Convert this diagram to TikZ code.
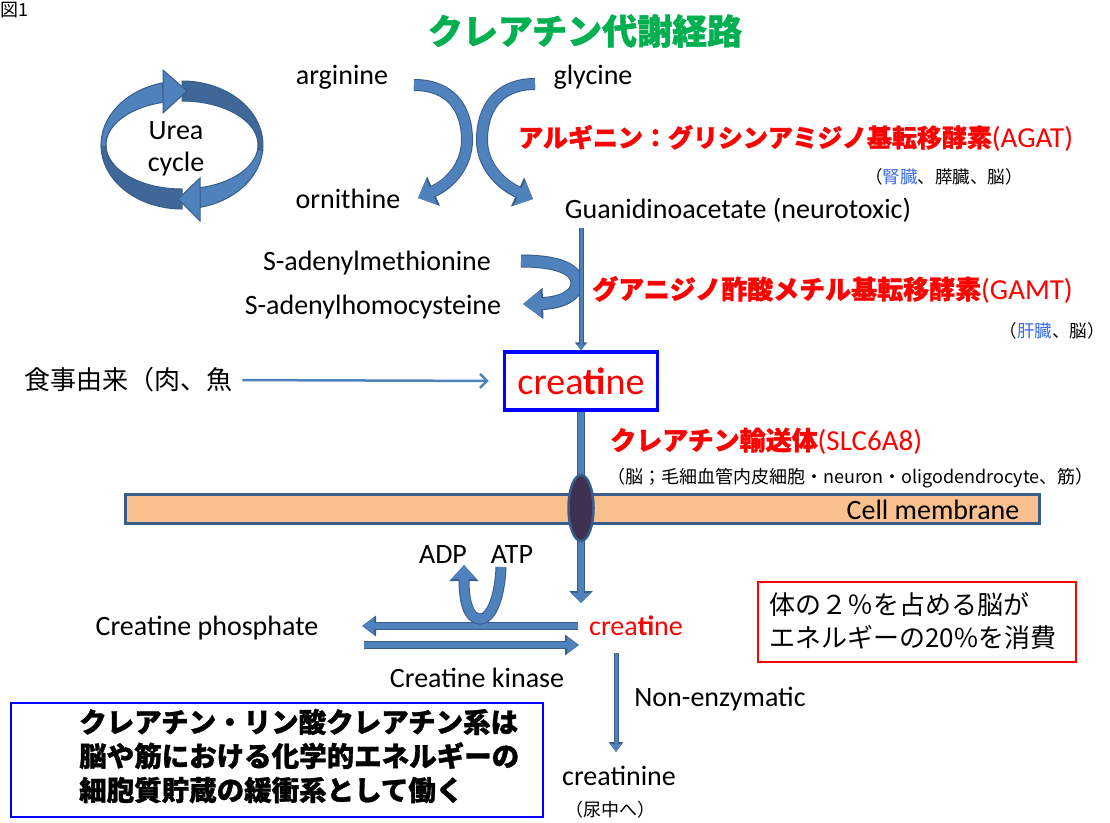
\documentclass[tikz,border=0pt]{standalone}
\usepackage{fontspec}
\setmainfont{Carlito}
\newfontfamily\jp{Noto Sans CJK JP}
\newfontfamily\jph{Noto Sans CJK JP}[BoldFeatures={FakeBold=1.2}]
\usetikzlibrary{arrows.meta,calc,shapes.geometric}
\definecolor{ribfill}{HTML}{4F81BD}
\definecolor{ribedge}{HTML}{385D8A}
\definecolor{ribdark}{HTML}{3F6899}
\definecolor{ttlgreen}{HTML}{00B050}
\definecolor{peach}{HTML}{FAC090}
\definecolor{transc}{HTML}{403152}
\definecolor{organblue}{HTML}{3A6CF0}
\tikzset{
  lat/.style={inner sep=0pt, font=\fontsize{28}{32}\selectfont},
  jpn/.style={inner sep=0pt, font=\jp\fontsize{#1}{#1}\selectfont},
  rib/.style n args={6}{preaction={draw=ribedge, line width=#4, -{Triangle[length=#5,width=#6]}},
     draw=ribfill, line width=#1, -{Triangle[length=#2,width=#3]}},
  ringlight/.style={fill=ribfill, draw=ribedge, line width=1pt},
  ringdark/.style={fill=ribdark, draw=ribedge, line width=1pt},
}
\begin{document}
\begin{tikzpicture}[x=1pt,y=-1pt]
\useasboundingbox (0,0) rectangle (1110,822);

% figure number and title
\node[jpn=18] (fig) at (14,10) {図1};
\node[jpn=35, text=ttlgreen] (title) at (585,31) {\jph\bfseries クレアチン代謝経路};

% Urea cycle ring
\coordinate (uc) at (182,145);
\fill[ringdark] ($(uc)+(90:81pt and 64pt)$) arc[start angle=90, end angle=-5, x radius=81pt, y radius=64pt]
   -- ($(uc)+(-5:76pt and 44pt)$) arc[start angle=-5, end angle=90, x radius=76pt, y radius=44pt] -- cycle;
\fill[ringdark] ($(uc)+(180:81pt and 64pt)$) arc[start angle=180, end angle=270, x radius=81pt, y radius=64pt]
   -- ($(uc)+(270:76pt and 44pt)$) arc[start angle=270, end angle=180, x radius=76pt, y radius=44pt] -- cycle;
\fill[ringlight] ($(uc)+(104:81pt and 64pt)$) arc[start angle=104, end angle=182, x radius=81pt, y radius=64pt]
   -- ($(uc)+(182:76pt and 44pt)$) arc[start angle=182, end angle=104, x radius=76pt, y radius=44pt] -- cycle;
\fill[ringlight] (163,70) -- (187,91) -- (163,113) -- cycle;
\fill[ringlight] ($(uc)+(-5:81pt and 64pt)$) arc[start angle=-5, end angle=-77, x radius=81pt, y radius=64pt]
   -- ($(uc)+(-77:76pt and 44pt)$) arc[start angle=-77, end angle=-5, x radius=76pt, y radius=44pt] -- cycle;
\fill[ringlight] (200,178) -- (178,199) -- (200,221) -- cycle;
\node[lat, align=center] (urea) at (176,149) {Urea\\cycle};

% AGAT step
\node[lat, anchor=base] (arg) at (342,84) {arginine};
\node[lat, anchor=base] (gly) at (593,84) {glycine};
\node[lat, anchor=base] (orn) at (348,208) {ornithine};
\node[lat, anchor=base] (gaa) at (738,218) {Guanidinoacetate (neurotoxic)};
\coordinate (a1) at (414,85);
\coordinate (g1) at (535,84);
\coordinate (a2) at (418,198);
\coordinate (g2) at (533,199);
\draw[rib={10pt}{15pt}{27pt}{12pt}{17pt}{31pt}]
  (a1) .. controls (452,85) and (467,110) .. (467,140)
  .. controls (467,165) and (450,184) .. (a2);
\draw[rib={10pt}{15pt}{27pt}{12pt}{17pt}{31pt}]
  (g1) .. controls (497,84) and (482,110) .. (482,140)
  .. controls (482,165) and (500,184) .. (g2);
\node[anchor=base west, inner sep=0pt, text=red] (agat) at (518,147)
  {{\jph\bfseries\fontsize{25}{25}\selectfont アルギニン：グリシンアミジノ基転移酵素}{\fontsize{29}{29}\selectfont(AGAT)}};
\node[jpn=17.5, anchor=east] (org1) at (1023,177) {（\textcolor{organblue}{腎臓}、膵臓、脳）};

% GAMT step
\node[lat, anchor=base] (sam) at (377,270) {S-adenylmethionine};
\node[lat, anchor=base] (sah) at (373,314) {S-adenylhomocysteine};
\coordinate (s1) at (521,261);
\coordinate (s2) at (523,304);
\draw[rib={11pt}{18pt}{26pt}{13pt}{20pt}{30pt}]
  (s1) .. controls (560,261) and (577,270) .. (577,283)
  .. controls (577,296) and (560,303) .. (s2);
\node[anchor=base west, inner sep=0pt, text=red] (gamt) at (592,299)
  {{\jph\bfseries\fontsize{26}{26}\selectfont グアニジノ酢酸メチル基転移酵素}{\fontsize{29}{29}\selectfont(GAMT)}};
\node[jpn=17.5, anchor=east] (org2) at (1105,331) {（\textcolor{organblue}{肝臓}、脳）};

% creatine box and diet
\node[draw=blue, line width=3.5pt, minimum width=153, minimum height=58, inner sep=0pt,
      text=red, font=\fontsize{38}{38}\selectfont] (box) at (581,381) {crea\textbf{ti}ne};
\coordinate (gtop) at (581,228);
\draw[rib={3pt}{6pt}{9pt}{5pt}{8pt}{12pt}] (gtop) -- (box.north);
\node[jpn=26, anchor=west] (diet) at (24,380) {食事由来（肉、魚};
\draw[draw=ribfill, line width=2.5pt, -{Straight Barb[length=7pt,width=14pt]},
      shorten <=10pt, shorten >=14pt] (diet.east) -- (box.west);

% transporter
\node[anchor=base west, inner sep=0pt, text=red] (slc) at (610,450)
  {{\jph\bfseries\fontsize{26}{26}\selectfont クレアチン輸送体}{\fontsize{29}{29}\selectfont(SLC6A8)}};
\node[jpn=18, anchor=west] (loc) at (607,478) {（脳；毛細血管内皮細胞・neuron・oligodendrocyte、筋）};
\node[draw=ribedge, fill=peach, line width=3pt, anchor=north west, minimum width=914, minimum height=29, inner sep=0pt] (mem) at (124,493) {};
\node[lat, anchor=base] (cm) at (933,519) {Cell membrane};
\coordinate (ct) at (581,603);
\draw[rib={6pt}{10pt}{19pt}{8.5pt}{12pt}{23pt}] (box.south) -- (ct);
\node[ellipse, draw=ribedge, fill=transc, line width=2.5pt, minimum width=25, minimum height=66, inner sep=0pt] (tr) at (581,508) {};

% creatine kinase
\node[lat, anchor=base] (adp) at (443,563) {ADP};
\node[lat, anchor=base] (atp) at (512,563) {ATP};
\node[lat, anchor=base] (cp) at (207,635) {Creatine phosphate};
\node[lat, anchor=base, text=red] (cr2) at (636,635) {crea\textbf{ti}ne};
\node[lat, anchor=base] (ck) at (477,687) {Creatine kinase};
\coordinate (k1) at (578,626);
\coordinate (k2) at (362,626);
\coordinate (k3) at (364,645);
\coordinate (k4) at (579,645);
\draw[rib={6.5pt}{12pt}{16pt}{8.5pt}{14pt}{20pt}] (k1) -- (k2);
\draw[rib={6.5pt}{12pt}{16pt}{8.5pt}{14pt}{20pt}] (k3) -- (k4);
\coordinate (t1) at (501,567);
\coordinate (t2) at (464,565);
\draw[rib={9pt}{14pt}{24pt}{11pt}{16pt}{28pt}]
  (t1) .. controls (500,595) and (492,619) .. (480,619)
  .. controls (468,619) and (464,600) .. (t2);

% non-enzymatic
\node[lat, anchor=base] (ne) at (720,706) {Non-enzymatic};
\node[lat, anchor=base] (crn) at (619,785) {creatinine};
\node[jpn=18] (urine) at (610,810) {（尿中へ）};
\coordinate (n1) at (616,653);
\coordinate (n2) at (616,752);
\draw[rib={3pt}{8pt}{11pt}{5pt}{10pt}{14pt}] (n1) -- (n2);

% info boxes
\node[draw=red, line width=2pt, anchor=north west, minimum width=318, minimum height=80, inner sep=0pt] (rbox) at (757,581) {};
\node[anchor=west, align=left, inner sep=0pt, font=\jp\fontsize{26}{33}\selectfont] (rtext) at (769,621.5)
  {体の２％を占める脳が\\エネルギーの20\%を消費};
\node[draw=blue, line width=2pt, anchor=north west, minimum width=532, minimum height=114, inner sep=0pt] (bbox) at (10,702) {};
\node[anchor=west, align=left, inner sep=0pt, font=\jph\bfseries\fontsize{27.5}{34}\selectfont] (btext) at (79,756)
  {クレアチン・リン酸クレアチン系は\\脳や筋における化学的エネルギーの\\細胞質貯蔵の緩衝系として働く};
\end{tikzpicture}
\end{document}
